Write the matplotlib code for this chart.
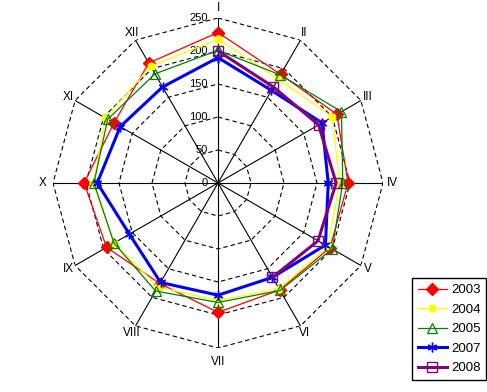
import numpy as np
import matplotlib
matplotlib.use("Agg")
import matplotlib.pyplot as plt

plt.rcParams['font.family'] = ['Liberation Sans', 'DejaVu Sans']
plt.rcParams['lines.scale_dashes'] = False

months = ["I", "II", "III", "IV", "V", "VI", "VII", "VIII", "IX", "X", "XI", "XII"]
ticks = [0, 50, 100, 150, 200, 250]

y2003 = [228, 190, 208, 197, 196, 187, 196, 176, 195, 203, 182, 210]
y2004 = [218, 182, 200, 184, 192, 185, 178, 182, 182, 189, 197, 204]
y2005 = [201, 189, 216, 189, 200, 188, 181, 189, 182, 188, 193, 191]
y2007 = [190, 162, 182, 167, 188, 165, 170, 174, 155, 183, 171, 168]
y2008 = [200, 168, 176, 179, 175, 165]

series = [
    ("2003", y2003, dict(color="#FF0000", lw=0.9, marker="D", ms=6.5, mfc="#FF0000", mec="#FF0000")),
    ("2004", y2004, dict(color="#FFFF00", lw=0.9, marker="o", ms=5, mfc="#FFFF00", mec="#FFFF00")),
    ("2005", y2005, dict(color="#008000", lw=0.9, marker="^", ms=7, mfc="none", mec="#008000", mew=0.9)),
    ("2007", y2007, dict(color="#0000FF", lw=2.2, marker=(6, 2, 0), ms=7, mec="#0000FF", mew=1.0)),
    ("2008", y2008, dict(color="#800080", lw=2.2, marker="s", ms=7, mfc="none", mec="#800080", mew=1.0)),
]

W, H = 487, 392
fig = plt.figure(figsize=(W / 100, H / 100), dpi=100)
cx, cy, R = 218, 183, 165
ax = fig.add_axes([(cx - R) / W, (H - cy - R) / H, 2 * R / W, 2 * R / H], projection="polar")
ax.set_theta_zero_location("N")
ax.set_theta_direction(-1)
ax.set_ylim(0, 250)
ax.axis("off")

n = len(months)
theta = np.arange(n) * 2 * np.pi / n

# polygon grid
for lev in ticks[1:]:
    ax.plot(np.append(theta, theta[0]), [lev] * (n + 1), color="black", lw=0.8,
            dashes=(3.2, 2.2), zorder=1)
# spokes
for t in theta:
    ax.plot([t, t], [0, 250], color="black", lw=0.8, zorder=1)

# tick labels
for v in ticks:
    ax.annotate(str(v), xy=(0, v), xytext=(-10, 0), textcoords="offset pixels",
                ha="right", va="center", fontsize=8, zorder=2)

# month labels
for t, m in zip(theta, months):
    r = {"I": 265, "VII": 271, "IV": 265, "X": 265}.get(m, 262)
    ax.text(t, r, m, ha="center", va="center", fontsize=8.5, clip_on=False)

handles = []
for name, vals, st in series:
    th = theta[:len(vals)]
    v = list(vals)
    if len(vals) == n:
        th = np.append(th, th[0])
        v = v + [v[0]]
    line, = ax.plot(th, v, label=name, zorder=3, clip_on=False, **st)
    handles.append(line)

leg = fig.legend(handles=handles, loc="upper left",
                 bbox_to_anchor=(412 / W, 1 - 278 / H), bbox_transform=fig.transFigure,
                 fancybox=False, edgecolor="black", framealpha=1, fontsize=9.5,
                 handlelength=2.2, handletextpad=0.3, labelspacing=0.55,
                 borderpad=0.45, borderaxespad=0)
leg.get_frame().set_linewidth(1.0)

fig.savefig("out.png", dpi=100, facecolor="white")
